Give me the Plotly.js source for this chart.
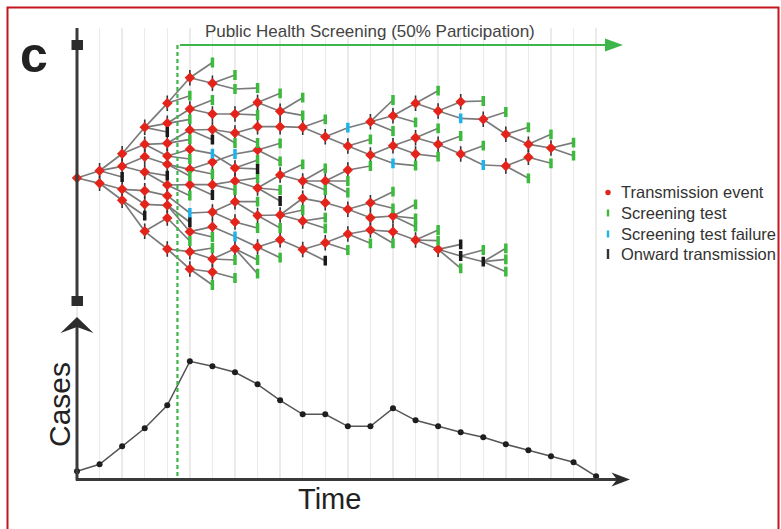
<!DOCTYPE html>
<html>
<head>
<meta charset="utf-8">
<script src="https://cdn.plot.ly/plotly-3.0.1.min.js"></script>
<style>html,body{margin:0;padding:0;background:#fff;}#chart{width:781px;height:529px;}</style>
</head>
<body>
<div id="chart"></div>
<script>
// ---- DATA ----
const times = [0,1,2,3,4,5,6,7,8,9,10,11,12,13,14,15,16,17,18,19,20,21,22,23];
const cases = [8,15,33,51,74,118,113,107,95,79,65,65,53,53,71,59,53,47,42,35,29,23,17,3];
const screeningStart = 4.45;
const titleText = "Public Health Screening (50% Participation)";
const legendLabels = ["Transmission event","Screening test","Screening test failure","Onward transmission"];
// tree nodes: [time step, vertical position, kind, parent vertical position at previous step]
// kind: R transmission event, G screening test, B screening test failure, K onward transmission
const treeNodes = [
 [0,178,'R',null],
 [1,170.7,'R',178],[1,183.3,'R',178],
 [2,153.7,'R',170.7],[2,166.3,'R',170.7],[2,177,'K',170.7],[2,189.3,'R',183.3],[2,200.3,'R',183.3],
 [3,127.3,'R',153.7],[3,144.3,'R',153.7],[3,156.7,'R',166.3],[3,172,'R',166.3],[3,190.7,'R',189.3],[3,204.3,'R',189.3],[3,215.7,'K',200.3],[3,231.3,'R',200.3],
 [4,103.3,'R',127.3],[4,123.3,'R',127.3],[4,132,'K',127.3],[4,143.3,'R',144.3],[4,156,'R',144.3],[4,164.3,'R',156.7],[4,175.7,'K',172],[4,185,'R',172],[4,195.7,'R',190.7],[4,205.3,'R',204.3],[4,218,'R',231.3],[4,249,'R',231.3],
 [5,77.7,'R',103.3],[5,95.7,'G',103.3],[5,109,'R',123.3],[5,119.3,'G',123.3],[5,130,'R',143.3],[5,139.3,'G',143.3],[5,149.3,'R',156],[5,159,'G',156],[5,169.3,'R',164.3],[5,176,'G',164.3],[5,184.7,'R',185],[5,195.7,'G',185],[5,213,'B',195.7],[5,222.3,'K',205.3],[5,231.7,'R',205.3],[5,241,'G',218],[5,251.7,'R',249],[5,269,'R',249],
 [6,62.5,'G',77.7],[6,83.3,'R',77.7],[6,100,'G',109],[6,114,'R',109],[6,129.5,'R',130],[6,139.7,'K',130],[6,153.7,'B',149.3],[6,162,'R',169.3],[6,174,'G',169.3],[6,184.7,'R',184.7],[6,195,'K',184.7],[6,212,'R',213],[6,226.7,'R',231.7],[6,237,'G',231.7],[6,248,'G',251.7],[6,259,'R',251.7],[6,272,'R',269],[6,285,'G',269],
 [7,75,'G',83.3],[7,89,'G',83.3],[7,114,'R',114],[7,133,'R',129.5],[7,143,'G',129.5],[7,154,'B',162],[7,168,'R',153.7],[7,181,'R',184.7],[7,190,'G',184.7],[7,201.7,'R',212],[7,222,'R',212],[7,236.5,'B',226.7],[7,248.7,'R',259],[7,260,'G',259],[7,278,'G',272],
 [8,88,'G',89],[8,102.5,'R',114],[8,115,'G',114],[8,126.7,'R',133],[8,143,'G',133],[8,150,'R',154],[8,160,'G',168],[8,169,'K',168],[8,178,'G',181],[8,188,'R',181],[8,201.7,'G',201.7],[8,215.5,'R',201.7],[8,228,'G',222],[8,247,'R',236.5],[8,260,'G',248.7],[8,273.7,'G',248.7],
 [9,93.3,'G',102.5],[9,111.3,'R',102.5],[9,126.7,'R',126.7],[9,143.3,'G',150],[9,161.3,'G',150],[9,175,'R',188],[9,190,'G',188],[9,201,'K',188],[9,215,'R',215.5],[9,228,'G',215.5],[9,239.7,'R',247],[9,257.7,'G',247],
 [10,97.7,'G',111.3],[10,115.3,'G',111.3],[10,127.3,'R',126.7],[10,164.3,'G',175],[10,181,'R',175],[10,198.3,'R',215],[10,210,'G',215],[10,221,'R',215],[10,249.5,'R',239.7],
 [11,119.3,'G',127.3],[11,136.7,'R',127.3],[11,168.3,'G',181],[11,181,'R',181],[11,190,'G',181],[11,202.7,'R',198.3],[11,217.7,'G',221],[11,228.3,'G',221],[11,242.7,'R',249.5],[11,260.7,'K',249.5],
 [12,127.7,'B',136.7],[12,146,'R',136.7],[12,170,'R',181],[12,181,'G',181],[12,192.7,'G',181],[12,209.3,'R',202.7],[12,234,'R',242.7],[12,250,'G',242.7],
 [13,121.7,'R',127.7],[13,139.3,'G',146],[13,155,'R',146],[13,166,'G',170],[13,202.7,'R',209.3],[13,217.7,'R',209.3],[13,230,'R',234],[13,243.3,'G',234],
 [14,100,'G',121.7],[14,115.7,'R',121.7],[14,131,'G',121.7],[14,145.7,'R',155],[14,163.3,'B',155],[14,191.7,'G',202.7],[14,208.3,'G',202.7],[14,216,'R',217.7],[14,231.7,'R',230],[14,243.3,'G',230],
 [15,103.3,'R',115.7],[15,122.3,'G',115.7],[15,137.7,'R',145.7],[15,154,'R',145.7],[15,165.7,'G',163.3],[15,204.3,'G',216],[15,218.3,'G',216],[15,226.7,'G',216],[15,240,'R',231.7],
 [16,90.7,'G',103.3],[16,111,'R',103.3],[16,128.3,'G',137.7],[16,144.3,'R',137.7],[16,156.7,'G',154],[16,230,'G',240],[16,240.7,'G',240],[16,249.3,'R',240],
 [17,101.7,'R',111],[17,118.3,'B',111],[17,136,'G',144.3],[17,154,'R',144.3],[17,244.3,'K',249.3],[17,256,'K',249.3],[17,268.3,'G',249.3],
 [18,101,'G',101.7],[18,119.3,'R',118.3],[18,145.7,'G',154],[18,165,'B',154],[18,250,'G',256],[18,261.7,'K',256],
 [19,112,'G',119.3],[19,134.3,'R',119.3],[19,166,'R',165],[19,248.3,'G',261.7],[19,259.3,'G',261.7],[19,271.7,'G',261.7],
 [20,127.3,'G',134.3],[20,144.3,'R',134.3],[20,157.3,'R',166],[20,178.3,'G',166],
 [21,134.3,'G',144.3],[21,148,'R',144.3],[21,163.3,'G',157.3],
 [22,142.7,'G',148],[22,155.7,'G',148]
];

// ---- BUILD ----
const W = 781, H = 529;
const PX = p => p / W, PY = p => 1 - p / H;
const step = 22.57, x0px = 77, topPx = 28, basePx = 479.3;
const cRed = '#e3241b', cGreen = '#3cba3c', cBlue = '#1db4ec', cBlack = '#1a1a1a';

const ex = [], ey = [];
treeNodes.forEach(n => { if (n[3] !== null) { ex.push(n[0]-1, n[0], null); ey.push(n[3], n[1], null); } });

function pick(kind){ const f = treeNodes.filter(n => n[2] === kind); return {x: f.map(n=>n[0]), y: f.map(n=>n[1])}; }
const R = pick('R'), G = pick('G'), B = pick('B'), K = pick('K');

const traces = [
 {x: ex, y: ey, mode: 'lines', line: {color: '#7a7a7a', width: 1.7}, hoverinfo: 'skip', showlegend: false},
 {x: R.x, y: R.y, mode: 'markers', marker: {symbol: 'line-ns', size: 11, line: {color: '#333', width: 1.6}}, showlegend: false},
 {x: R.x, y: R.y, mode: 'markers', name: legendLabels[0], marker: {symbol: 'diamond', size: 8, color: cRed}, showlegend: false},
 {x: G.x, y: G.y, mode: 'markers', name: legendLabels[1], marker: {symbol: 'line-ns', size: 7, line: {color: cGreen, width: 3.5}}, showlegend: false},
 {x: B.x, y: B.y, mode: 'markers', name: legendLabels[2], marker: {symbol: 'line-ns', size: 7, line: {color: cBlue, width: 3.5}}, showlegend: false},
 {x: K.x, y: K.y, mode: 'markers', name: legendLabels[3], marker: {symbol: 'line-ns', size: 7, line: {color: cBlack, width: 3.5}}, showlegend: false},
 {x: times, y: cases, yaxis: 'y2', mode: 'lines+markers', line: {color: '#555', width: 1.5}, marker: {size: 6, color: '#1e1e1e'}, showlegend: false}
];

const dark = '#3a3a3a', green = '#3db54a';
const shapes = [
 {type:'rect', xref:'paper', yref:'paper', x0:PX(7.5), x1:PX(778.5), y0:PY(545), y1:PY(7.5), line:{color:'#c4161c', width:2}},
 {type:'line', xref:'x', yref:'y', x0:screeningStart, x1:screeningStart, y0:45, y1:basePx, line:{color:green, width:2.2, dash:'4px,3px'}},
 {type:'line', xref:'paper', yref:'paper', x0:PX(180), x1:PX(610), y0:PY(45), y1:PY(45), line:{color:green, width:2}},
 {type:'path', xref:'paper', yref:'paper', path:`M${PX(623)},${PY(45)} L${PX(605)},${PY(38.5)} L${PX(605)},${PY(51.5)} Z`, fillcolor:green, line:{width:0}},
 {type:'line', xref:'paper', yref:'paper', x0:PX(77), x1:PX(77), y0:PY(28), y1:PY(300), line:{color:dark, width:3}},
 {type:'rect', xref:'paper', yref:'paper', x0:PX(71.5), x1:PX(83), y0:PY(50), y1:PY(40), fillcolor:'#2c2c2c', line:{width:0}},
 {type:'rect', xref:'paper', yref:'paper', x0:PX(71.5), x1:PX(83), y0:PY(306), y1:PY(296), fillcolor:'#2c2c2c', line:{width:0}},
 {type:'line', xref:'paper', yref:'paper', x0:PX(77), x1:PX(77), y0:PY(325), y1:PY(480.5), line:{color:dark, width:3}},
 {type:'path', xref:'paper', yref:'paper', path:`M${PX(77)},${PY(317)} L${PX(93.5)},${PY(333)} L${PX(77)},${PY(327)} L${PX(60.5)},${PY(333)} Z`, fillcolor:'#2c2c2c', line:{width:0}},
 {type:'line', xref:'paper', yref:'paper', x0:PX(76), x1:PX(617), y0:PY(479.5), y1:PY(479.5), line:{color:dark, width:3}},
 {type:'path', xref:'paper', yref:'paper', path:`M${PX(630)},${PY(479.5)} L${PX(611.5)},${PY(472.5)} L${PX(617)},${PY(479.5)} L${PX(611.5)},${PY(486.5)} Z`, fillcolor:'#2c2c2c', line:{width:0}},
 // legend symbols
 {type:'circle', xref:'paper', yref:'paper', x0:PX(605.3), x1:PX(610.7), y0:PY(195.2), y1:PY(189.8), fillcolor:cRed, line:{width:0}},
 {type:'rect', xref:'paper', yref:'paper', x0:PX(606.8), x1:PX(609.2), y0:PY(216.5), y1:PY(209.5), fillcolor:cGreen, line:{width:0}},
 {type:'rect', xref:'paper', yref:'paper', x0:PX(606.8), x1:PX(609.2), y0:PY(237.5), y1:PY(230.5), fillcolor:cBlue, line:{width:0}},
 {type:'rect', xref:'paper', yref:'paper', x0:PX(606.8), x1:PX(609.2), y0:PY(259), y1:PY(249), fillcolor:'#333', line:{width:0}}
];

const legendRows = [192, 213, 234, 254];
const annotations = [
 {xref:'paper', yref:'paper', x:PX(34), y:PY(55), text:'<b>c</b>', showarrow:false, font:{family:'Liberation Sans, Arial', size:50, color:'#222'}, xanchor:'center', yanchor:'middle'},
 {xref:'paper', yref:'paper', x:PX(370), y:PY(31), text:titleText, showarrow:false, font:{family:'Liberation Sans, Arial', size:17, color:'#444'}, xanchor:'center', yanchor:'middle'},
 {xref:'paper', yref:'paper', x:PX(59), y:PY(405), text:'Cases', textangle:-90, showarrow:false, font:{family:'Liberation Sans, Arial', size:30, color:'#222'}, xanchor:'center', yanchor:'middle'},
 {xref:'paper', yref:'paper', x:PX(329), y:PY(499), text:'Time', showarrow:false, font:{family:'Liberation Sans, Arial', size:29, color:'#222'}, xanchor:'center', yanchor:'middle'}
].concat(legendLabels.map((t, i) => ({xref:'paper', yref:'paper', x:PX(618.5), y:PY(legendRows[i]), text:t, showarrow:false,
   font:{family:'Liberation Sans, Arial', size:16.5, color:'#333'}, xanchor:'left', yanchor:'middle'})));

const layout = {
 width: W, height: H, margin: {l:0, r:0, t:0, b:0},
 paper_bgcolor: '#fff', plot_bgcolor: 'rgba(0,0,0,0)',
 font: {family: 'Liberation Sans, Arial, sans-serif', color: '#333'},
 xaxis: {domain:[0,1], range:[-x0px/step, (W - x0px)/step], tickmode:'array', tickvals: times, showticklabels:false, ticks:'',
   showgrid:true, gridcolor:'#ebebeb', gridwidth:1.5, zeroline:false, showline:false, fixedrange:true},
 yaxis: {domain:[(H-basePx)/H, (H-topPx)/H], range:[basePx, topPx], showgrid:false, zeroline:false, showticklabels:false, ticks:'', showline:false, fixedrange:true},
 yaxis2: {overlaying:'y', range:[0, basePx - topPx], showgrid:false, zeroline:false, showticklabels:false, ticks:'', showline:false, fixedrange:true},
 showlegend: false,
 shapes: shapes, annotations: annotations
};

Plotly.newPlot('chart', traces, layout, {displayModeBar:false, staticPlot:true});
</script>
</body>
</html>
